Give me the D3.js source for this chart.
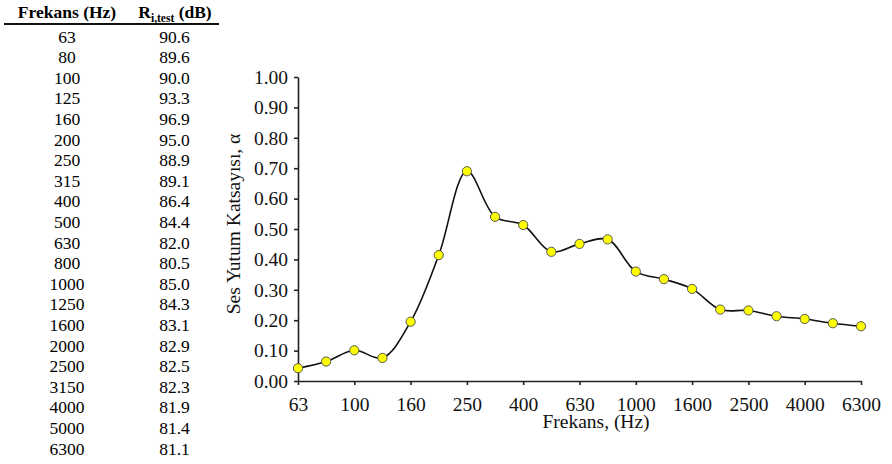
<!DOCTYPE html>
<html>
<head>
<meta charset="utf-8">
<script src="https://cdn.jsdelivr.net/npm/d3@7"></script>
<style>
  body { margin: 0; background: #fff; }
</style>
</head>
<body>
<div id="box"></div>
<script>
'use strict';

// table + chart data
var frequencies = ["63", "80", "100", "125", "160", "200", "250", "315", "400", "500", "630",
  "800", "1000", "1250", "1600", "2000", "2500", "3150", "4000", "5000", "6300"];
var riTest = ["90.6", "89.6", "90.0", "93.3", "96.9", "95.0", "88.9", "89.1", "86.4", "84.4", "82.0",
  "80.5", "85.0", "84.3", "83.1", "82.9", "82.5", "82.3", "81.9", "81.4", "81.1"];
var alphaValues = [0.042, 0.064, 0.101, 0.076, 0.195, 0.414, 0.690, 0.540, 0.513, 0.425, 0.451,
  0.466, 0.360, 0.335, 0.303, 0.235, 0.232, 0.213, 0.204, 0.190, 0.180];
var yTicks = [0, 0.1, 0.2, 0.3, 0.4, 0.5, 0.6, 0.7, 0.8, 0.9, 1.0];

var width = 892, height = 464;
var serif = "'Liberation Serif'";

var svg = d3.select("#box")
  .append("svg")
    .attr("width", width)
    .attr("height", height)
    .style("font-family", serif);

// ---- table on the left
var table = svg.append("g");
table.append("text")
  .attr("x", 67).attr("y", 18)
  .attr("text-anchor", "middle")
  .style("font-family", serif)
  .style("font-size", "17.5px")
  .style("font-weight", "bold")
  .text("Frekans (Hz)");

var rHead = table.append("text")
  .attr("x", 175).attr("y", 18)
  .attr("text-anchor", "middle")
  .style("font-family", serif)
  .style("font-size", "17.5px")
  .style("font-weight", "bold");
rHead.append("tspan").text("R");
rHead.append("tspan").attr("dy", 4).style("font-size", "11.5px").text("i,test");
rHead.append("tspan").attr("dy", -4).text(" (dB)");

table.append("line")
  .attr("x1", 4).attr("x2", 219)
  .attr("y1", 24).attr("y2", 24)
  .attr("stroke", "#111")
  .attr("stroke-width", 2);

var rowY = d3.scaleLinear().domain([0, frequencies.length - 1]).range([42.5, 454.5]);

table.selectAll(".freq")
  .data(frequencies)
  .enter().append("text")
    .attr("class", "freq")
    .attr("x", 67)
    .attr("y", function(d, i) { return rowY(i); })
    .attr("text-anchor", "middle")
    .style("font-family", serif)
    .style("font-size", "17.5px")
    .text(function(d) { return d; });

table.selectAll(".ri")
  .data(riTest)
  .enter().append("text")
    .attr("class", "ri")
    .attr("x", 174.5)
    .attr("y", function(d, i) { return rowY(i); })
    .attr("text-anchor", "middle")
    .style("font-family", serif)
    .style("font-size", "17.5px")
    .text(function(d) { return d; });

// ---- chart on the right
var x = d3.scalePoint()
  .domain(frequencies)
  .range([298, 861]);

var y = d3.scaleLinear()
  .domain([0, 1])
  .range([381, 77]);

var xAxis = svg.append("g")
  .attr("transform", "translate(0,381)")
  .call(d3.axisBottom(x)
    .tickValues(frequencies.filter(function(d, i) { return i % 2 === 0; }))
    .tickSize(4)
    .tickSizeOuter(0)
    .tickPadding(12));

var yAxis = svg.append("g")
  .attr("transform", "translate(298,0)")
  .call(d3.axisLeft(y)
    .tickValues(yTicks)
    .tickFormat(d3.format(".2f"))
    .tickSize(4)
    .tickSizeOuter(0)
    .tickPadding(6));

[xAxis, yAxis].forEach(function(a) {
  a.attr("font-family", null);
  a.selectAll("path, line").attr("stroke", "#222").attr("stroke-width", 1.6);
  a.selectAll("text")
    .style("font-family", serif)
    .style("font-size", "19.5px")
    .attr("fill", "#111");
});

svg.append("text")
  .attr("x", 596).attr("y", 428)
  .attr("text-anchor", "middle")
  .style("font-family", serif)
  .style("font-size", "19.5px")
  .attr("fill", "#111")
  .text("Frekans, (Hz)");

svg.append("text")
  .attr("transform", "rotate(-90)")
  .attr("x", -224).attr("y", 240)
  .attr("text-anchor", "middle")
  .style("font-family", serif)
  .style("font-size", "19.5px")
  .attr("fill", "#111")
  .text("Ses Yutum Katsayısı, α");

// smoothed line
svg.append("path")
  .datum(alphaValues)
  .attr("fill", "none")
  .attr("stroke", "#111")
  .attr("stroke-width", 1.6)
  .attr("d", d3.line()
    .x(function(d, i) { return x(frequencies[i]); })
    .y(function(d) { return y(d); })
    .curve(d3.curveCatmullRom.alpha(0.5)));

svg.selectAll(".pt")
  .data(alphaValues)
  .enter().append("circle")
    .attr("class", "pt")
    .attr("cx", function(d, i) { return x(frequencies[i]); })
    .attr("cy", function(d) { return y(d); })
    .attr("r", 4.6)
    .attr("fill", "#ffff00")
    .attr("stroke", "#555")
    .attr("stroke-width", 1);
</script>
</body>
</html>
